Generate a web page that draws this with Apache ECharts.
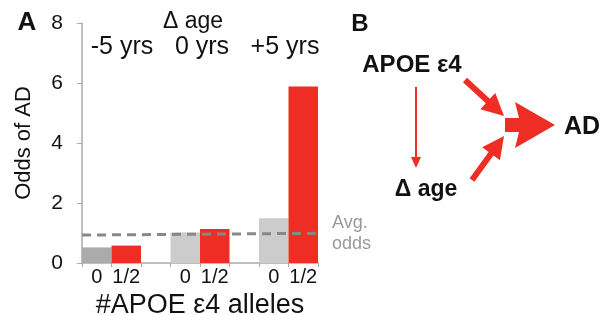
<!DOCTYPE html>
<html><head><meta charset="utf-8">
<script src="https://cdn.jsdelivr.net/npm/echarts@6/dist/echarts.min.js"></script>
<style>html,body{margin:0;padding:0;background:#fff}#c{width:603px;height:315px}</style>
</head><body><div id="c"></div>
<script>
// ---- data ----
var groups = ['-5 yrs', '0 yrs', '+5 yrs'];
var alleleLabels = ['0', '1/2'];
var grayOdds = [0.52, 1.02, 1.49];
var redOdds = [0.58, 1.13, 5.88];
var avgOddsEnds = [0.93, 0.99];
var yTicks = [0, 2, 4, 6, 8];

var FONT = '"Liberation Sans", Arial, Helvetica, sans-serif';
var RED = '#EE2D24';
var cats = [], vals = [], cols = [];
groups.forEach(function (g, i) {
  cats.push(alleleLabels[0]); vals.push(grayOdds[i]); cols.push(i === 0 ? '#ABABAB' : '#CCCCCC');
  cats.push(alleleLabels[1]); vals.push(redOdds[i]); cols.push(RED);
  if (i < groups.length - 1) { cats.push(''); vals.push(null); cols.push('#fff'); }
});
var barData = vals.map(function (v, i) { return { value: v, itemStyle: { color: cols[i] } }; });

function arrow(x1, y1, x2, y2, sw, hl, hw) {
  var dx = x2 - x1, dy = y2 - y1, L = Math.sqrt(dx * dx + dy * dy);
  var ux = dx / L, uy = dy / L, px = -uy, py = ux;
  var bx = x2 - ux * hl, by = y2 - uy * hl;
  return [[x1 + px * sw / 2, y1 + py * sw / 2], [bx + px * sw / 2, by + py * sw / 2], [bx + px * hw, by + py * hw],
    [x2, y2], [bx - px * hw, by - py * hw], [bx - px * sw / 2, by - py * sw / 2], [x1 - px * sw / 2, y1 - py * sw / 2]];
}
function txt(x, y, s, size, weight, color, align) {
  return { type: 'text', x: x, y: y, style: { text: s, font: (weight || 'normal') + ' ' + size + 'px ' + FONT,
    fill: color || '#111', textAlign: align || 'center', textVerticalAlign: 'middle' } };
}

var chart = echarts.init(document.getElementById('c'));
chart.setOption({
  animation: false,
  grid: { left: 82, right: 285, top: 23, bottom: 52, outerBoundsMode: 'none', containLabel: false },
  xAxis: [{
    type: 'category', data: cats,
    axisLine: { lineStyle: { color: '#AAAAAA', width: 1.5 } },
    axisTick: { show: true, length: 4, lineStyle: { color: '#AAAAAA' } },
    axisLabel: { color: '#111', fontSize: 20, fontFamily: FONT, margin: 4, interval: 0 },
    name: '#APOE ε4 alleles', nameLocation: 'middle', nameGap: 25,
    nameTextStyle: { fontSize: 27, color: '#111', fontFamily: FONT }
  }, {
    type: 'value', min: 0, max: 1, show: false
  }],
  yAxis: {
    type: 'value', min: yTicks[0], max: yTicks[yTicks.length - 1], interval: 2,
    axisLine: { show: true, lineStyle: { color: '#AAAAAA', width: 1.5 } },
    axisTick: { show: true, length: 5, lineStyle: { color: '#AAAAAA' } },
    splitLine: { show: false },
    axisLabel: { color: '#111', fontSize: 21, fontFamily: FONT, margin: 19 },
    name: 'Odds of AD', nameLocation: 'middle', nameGap: 47,
    nameTextStyle: { fontSize: 22, color: '#111', fontFamily: FONT }
  },
  series: [{
    type: 'bar', data: barData, barWidth: '100%', barGap: '0%'
  }, {
    type: 'line', xAxisIndex: 1, data: [[0, avgOddsEnds[0]], [1, avgOddsEnds[1]]],
    symbol: 'none', lineStyle: { color: '#888888', width: 3, type: [9, 6] }, z: 5
  }],
  graphic: [
    txt(27, 23, 'A', 26, 'bold'),
    txt(360, 24, 'B', 24, 'bold'),
    txt(193, 22, 'Δ age', 23),
    txt(122, 47, groups[0], 25),
    txt(202, 47, groups[1], 25),
    txt(285, 47, groups[2], 25),
    txt(332, 223, 'Avg.', 18, 'normal', '#999', 'left'),
    txt(332, 244, 'odds', 18, 'normal', '#999', 'left'),
    txt(412, 65, 'APOE ε4', 24, 'bold'),
    txt(582, 127, 'AD', 25, 'bold'),
    txt(426, 190, 'Δ age', 23, 'bold'),
    { type: 'polygon', shape: { points: arrow(416, 87, 416, 168, 2, 11, 5) }, style: { fill: RED } },
    { type: 'polygon', shape: { points: arrow(465, 80, 504, 116, 6, 22, 11) }, style: { fill: RED } },
    { type: 'polygon', shape: { points: arrow(472, 180, 504, 136, 6, 22, 11) }, style: { fill: RED } },
    { type: 'polygon', shape: { points: [[505, 118], [519, 118], [515, 102], [555, 125], [515, 148], [519, 132], [505, 132]] }, style: { fill: RED } }
  ]
});
</script></body></html>
